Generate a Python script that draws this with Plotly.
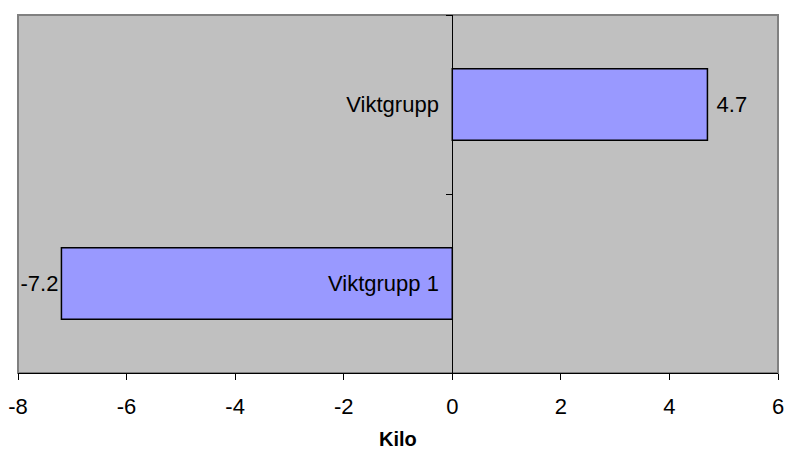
import plotly.graph_objects as go

# Weight change per group (kg)
categories = ["Viktgrupp 1", "Viktgrupp"]
values = [-7.2, 4.7]
x_ticks = [-8, -6, -4, -2, 0, 2, 4, 6]
x_tick_labels = [str(t) for t in x_ticks]
x_title = "Kilo"

x_min, x_max = -8, 6
FONT = "Liberation Sans, Arial"

# Pad the positive data label a little away from the bar end
labels = [f"{v:g}" if v < 0 else f" {v:g}" for v in values]

fig = go.Figure(
    go.Bar(
        y=categories,
        x=values,
        orientation="h",
        marker=dict(color="#9999FF", line=dict(color="black", width=1.5)),
        text=labels,
        textposition="outside",
        textfont=dict(family=FONT, size=22, color="black"),
        cliponaxis=False,
        hoverinfo="skip",
    )
)

fig.update_layout(
    width=790,
    height=452,
    margin=dict(l=18, r=12, t=15, b=79, autoexpand=False),
    paper_bgcolor="white",
    plot_bgcolor="#C0C0C0",
    bargap=0.6,
    showlegend=False,
    font=dict(family=FONT, size=22, color="black"),
    xaxis=dict(
        range=[x_min, x_max],
        tickvals=x_ticks,
        ticktext=x_tick_labels,
        ticks="outside",
        ticklen=6,
        tickcolor="black",
        showgrid=False,
        zeroline=False,
        showline=True,
        linecolor="black",
        linewidth=1,
        automargin=False,
        ticklabelstandoff=8,
        tickfont=dict(size=22),
    ),
    yaxis=dict(
        anchor="free",
        position=(0 - x_min) / (x_max - x_min),
        showline=True,
        linecolor="black",
        linewidth=1,
        ticks="outside",
        ticklen=6,
        tickcolor="black",
        tickson="boundaries",
        showgrid=False,
        zeroline=False,
        automargin=False,
        ticklabelstandoff=9,
        tickfont=dict(size=22),
    ),
)

# Axis title below the tick labels
fig.add_annotation(
    text=f"<b>{x_title}</b>", xref="paper", yref="paper", x=0.5, y=0,
    yanchor="middle", yshift=-66, showarrow=False, borderpad=0,
    font=dict(family=FONT, size=20, color="black"),
)

# Plot-area frame
fig.add_shape(
    type="rect", xref="paper", yref="paper", x0=0, y0=0, x1=1, y1=1,
    line=dict(color="#808080", width=2), layer="below",
)

fig.write_html("out.html")
